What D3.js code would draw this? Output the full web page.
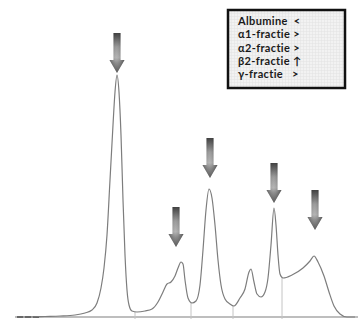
<!DOCTYPE html>
<html>
<head>
<meta charset="utf-8">
<script src="https://cdn.jsdelivr.net/npm/d3@7"></script>
<style>
  html, body { margin: 0; padding: 0; background: #fff; }
  svg { display: block; }
</style>
</head>
<body>
<svg id="chart"></svg>
<script>
// mobility (x) and intensity (y)
const mobility = [0, 13, 28, 43, 58, 68, 75, 80, 84, 87, 90, 93, 96, 98, 100, 102, 104, 106, 108, 110,
  112, 115, 120, 128, 135, 141, 146, 150, 154, 158, 161, 164, 166, 168, 171, 175, 179, 183, 186, 189,
  192, 195, 198, 201, 204, 208, 213, 217, 223, 228, 232, 234, 237, 240, 244, 248, 251, 254, 257, 259,
  261, 263, 266, 275, 286, 293, 297, 301, 307, 312, 317, 323, 330, 338];
const intensity = [0, 0, 0.5, 1, 2, 4, 7, 14, 29, 49, 82, 137, 192, 225, 242, 225, 182, 117, 62, 27,
  12, 6, 5, 6, 8, 15, 25, 33, 35, 41, 49, 55, 53, 37, 19, 14, 16, 32, 67, 107,
  128, 119, 92, 57, 32, 18, 13, 11, 19, 28, 45, 48, 35, 23, 20, 25, 39, 72, 109, 92,
  62, 43, 39, 42, 49, 56, 61, 55, 41, 25, 11, 3, 0, 0];

// fraction boundaries
const dividerX = [118, 174, 216, 265];
const dividerTop = [5, 14, 11, 39];

// arrows pointing at the fractions
const arrowX = [100, 159, 193, 257, 298];
const arrowTip = [244, 70, 139, 114, 87];

// legend
const legendLabels = ['Albumine', 'α1-fractie', 'α2-fractie', 'β2-fractie', 'γ-fractie'];
const legendSymbols = ['<', '>', '>', '↑', '>'];
const legendGaps = ['  ', ' ', ' ', ' ', '   '];

const width = 358, height = 320;
const svg = d3.select('#chart').attr('width', width).attr('height', height);

const x = d3.scaleLinear().domain([0, 340]).range([17, 357]);
const y = d3.scaleLinear().domain([0, 245]).range([317, 72]);

const defs = svg.append('defs');

const grad = defs.append('linearGradient')
  .attr('id', 'arrowGrad').attr('x1', 0).attr('y1', 0).attr('x2', 0).attr('y2', 1);
grad.append('stop').attr('offset', '0%').attr('stop-color', '#1e1e1e');
grad.append('stop').attr('offset', '35%').attr('stop-color', '#8a8a8a');
grad.append('stop').attr('offset', '62%').attr('stop-color', '#a8a8a8');
grad.append('stop').attr('offset', '75%').attr('stop-color', '#7a7a7a');
grad.append('stop').attr('offset', '100%').attr('stop-color', '#3a3a3a');

const sideGrad = defs.append('linearGradient')
  .attr('id', 'sideGrad').attr('x1', 0).attr('y1', 0).attr('x2', 1).attr('y2', 0);
sideGrad.append('stop').attr('offset', '0%').attr('stop-color', '#000').attr('stop-opacity', 0.35);
sideGrad.append('stop').attr('offset', '45%').attr('stop-color', '#fff').attr('stop-opacity', 0.15);
sideGrad.append('stop').attr('offset', '100%').attr('stop-color', '#000').attr('stop-opacity', 0.45);

const pat = defs.append('pattern')
  .attr('id', 'grid').attr('width', 3).attr('height', 3).attr('patternUnits', 'userSpaceOnUse');
pat.append('rect').attr('width', 3).attr('height', 3).attr('fill', '#f2f2f2');
pat.append('path').attr('d', 'M0,0.5H3M0.5,0V3').attr('stroke', '#e2e2e2').attr('stroke-width', 0.5);

// Baseline
svg.append('line')
  .attr('x1', x(-2)).attr('x2', x(341))
  .attr('y1', y(0)).attr('y2', y(0))
  .attr('stroke', '#a9a9a9').attr('stroke-width', 1.5);
svg.append('line')
  .attr('x1', x(0)).attr('x2', x(22))
  .attr('y1', y(0)).attr('y2', y(0))
  .attr('stroke', '#333').attr('stroke-width', 1.5)
  .attr('stroke-dasharray', '6,2');

// Fraction dividers
svg.selectAll('.divider')
  .data(dividerX)
  .join('line')
  .attr('class', 'divider')
  .attr('x1', d => x(d)).attr('x2', d => x(d))
  .attr('y1', y(0) + 2).attr('y2', (d, i) => y(dividerTop[i]))
  .attr('stroke', '#c4c4c4').attr('stroke-width', 1);

// Trace
const points = mobility.map((m, i) => [m, intensity[i]]);
const line = d3.line()
  .x(d => x(d[0]))
  .y(d => y(d[1]))
  .curve(d3.curveMonotoneX);

svg.append('path')
  .datum(points)
  .attr('fill', 'none')
  .attr('stroke', '#7d7d7d')
  .attr('stroke-width', 1.2)
  .attr('d', line);

// Arrows
const shaftW = 7, headW = 15, headH = 13, arrowLen = 40;
function arrowPath(cx, tipY) {
  const top = tipY - arrowLen, neck = tipY - headH;
  return `M${cx - shaftW / 2},${top}H${cx + shaftW / 2}V${neck}H${cx + headW / 2}` +
    `L${cx},${tipY}L${cx - headW / 2},${neck}H${cx - shaftW / 2}Z`;
}
const arrows = svg.selectAll('.arrow')
  .data(arrowX)
  .join('g')
  .attr('class', 'arrow');
arrows.append('path')
  .attr('d', (d, i) => arrowPath(x(d), y(arrowTip[i])))
  .attr('fill', 'url(#arrowGrad)');
arrows.append('path')
  .attr('d', (d, i) => arrowPath(x(d), y(arrowTip[i])))
  .attr('fill', 'url(#sideGrad)');

// Legend
const lg = svg.append('g').attr('transform', 'translate(228,10)');
lg.append('rect')
  .attr('x', 0).attr('y', 0).attr('width', 117).attr('height', 78)
  .attr('fill', 'url(#grid)')
  .attr('stroke', '#111').attr('stroke-width', 2.5);

lg.selectAll('.row')
  .data(legendLabels)
  .join('text')
  .attr('class', 'row')
  .attr('x', 10)
  .attr('y', (d, i) => 15 + i * 13.3)
  .attr('xml:space', 'preserve')
  .style('white-space', 'pre')
  .attr('font-family', 'Lato, "DejaVu Sans", sans-serif')
  .attr('font-weight', 'bold')
  .attr('font-size', '11px')
  .attr('letter-spacing', '0.35px')
  .attr('fill', '#1a1a1a')
  .text((d, i) => d + legendGaps[i] + legendSymbols[i]);
</script>
</body>
</html>
